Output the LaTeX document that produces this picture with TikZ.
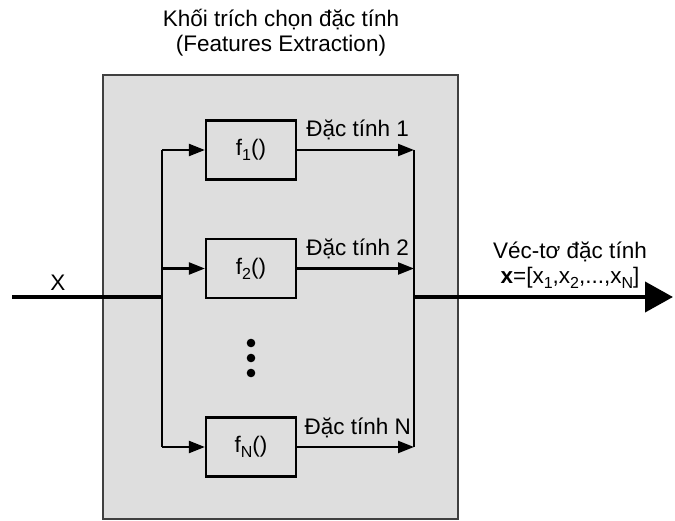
\documentclass[tikz,border=0pt]{standalone}
\usepackage{fontspec}
\setmainfont{Liberation Sans}
\usetikzlibrary{arrows.meta}

\newcommand{\lowidx}[1]{\raisebox{-0.4ex}{\fontsize{16}{16}\selectfont #1}}

\tikzset{
  fbox/.style={draw, line width=2.2pt, minimum width=90pt, minimum height=59pt, inner sep=0pt},
  wire/.style={line width=2.2pt},
  arr/.style={wire, -{Triangle[length=16pt,width=12pt]}},
  thickwire/.style={line width=4pt}
}

\begin{document}
\begin{tikzpicture}[x=1pt,y=-1pt,every node/.style={font=\fontsize{22.5}{25}\selectfont}]
                \useasboundingbox (0,0) rectangle (675,521);

                % khoi trich chon
                \node[align=center] (title) at (281,33) {Khối trích chọn đặc tính\\(Features Extraction)};
                \draw[line width=2pt, draw=black!75, fill=black!13] (103,75) rectangle (458,519);

                \node[fbox] (f1) at (251,150) {f\lowidx{1}()};
                \node[fbox] (f2) at (251,268.5) {f\lowidx{2}()};
                \node[fbox] (fN) at (251,447) {f\lowidx{N}()};

                \fill (251,343) circle (4.3);
                \fill (251,358) circle (4.3);
                \fill (251,373) circle (4.3);

                \coordinate (in) at (12,297);
                \coordinate (split) at (162,297);
                \coordinate (merge) at (414,297);
                \coordinate (out) at (673,297);

                % input
                \draw[thickwire] (in) -- (split);
                \node (xlab) at (58,283) {X};
                \draw[wire] (split |- f1) -- (split |- fN);
                \draw[arr] (split |- f1) -- (f1.west);
                \draw[arr] (split |- f2) -- (f2.west);
                \draw[arr] (split |- fN) -- (fN.west);

                % outputs
                \draw[arr] (f1.east) -- (merge |- f1) node[anchor=base east, inner sep=0pt, pos=1, yshift=13pt, xshift=-4pt] (d1) {Đặc tính 1};
                \draw[arr] (f2.east) -- (merge |- f2) node[anchor=base east, inner sep=0pt, pos=1, yshift=13pt, xshift=-4pt] (d2) {Đặc tính 2};
                \draw[arr] (fN.east) -- (merge |- fN) node[anchor=base east, inner sep=0pt, pos=1, yshift=13pt, xshift=-2pt] (dN) {Đặc tính N};
                \draw[wire] (merge |- f1) -- (merge |- fN);

                \draw[thickwire, -{Triangle[length=28pt,width=30pt]}] (merge) -- (out);
                \node[align=center] (vec) at (570,265) {Véc-tơ đặc tính\\\textbf{x}=[x\lowidx{1},x\lowidx{2},...,x\lowidx{N}]};
            \end{tikzpicture}
\end{document}
